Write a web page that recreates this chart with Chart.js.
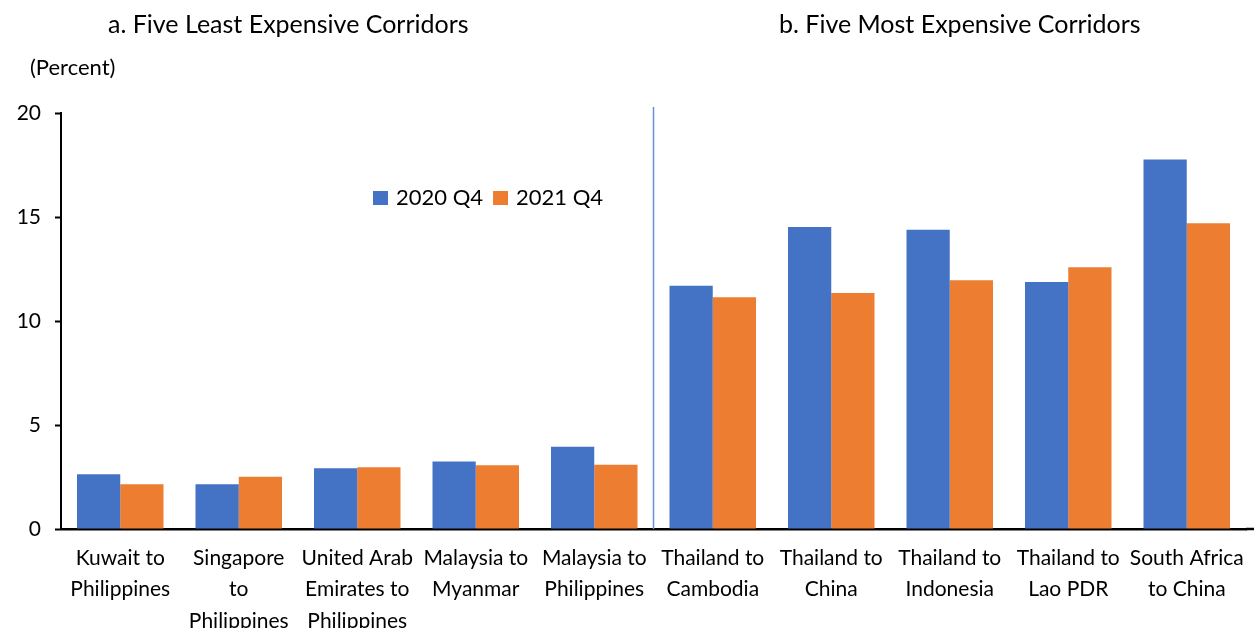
<!DOCTYPE html>
<html>
<head>
<meta charset="utf-8">
<script src="https://cdn.jsdelivr.net/npm/chart.js@4.4.1/dist/chart.umd.min.js"></script>
<style>
  html, body { margin: 0; padding: 0; background: #fff; }
  #wrap { width: 1254px; height: 628px; position: relative; }
</style>
</head>
<body>
<div id="wrap"><canvas id="costChart"></canvas></div>
<script>
// remittance corridors, average cost in percent
const corridors = [
    ['Kuwait to', 'Philippines'],
    ['Singapore', 'to', 'Philippines'],
    ['United Arab', 'Emirates to', 'Philippines'],
    ['Malaysia to', 'Myanmar'],
    ['Malaysia to', 'Philippines'],
    ['Thailand to', 'Cambodia'],
    ['Thailand to', 'China'],
    ['Thailand to', 'Indonesia'],
    ['Thailand to', 'Lao PDR'],
    ['South Africa', 'to China']
];
const cost2020Q4 = [2.63, 2.15, 2.92, 3.24, 3.96, 11.70, 14.52, 14.39, 11.88, 17.77];
const cost2021Q4 = [2.15, 2.51, 2.97, 3.06, 3.09, 11.14, 11.35, 11.96, 12.58, 14.70];
const yTicks = [0, 5, 10, 15, 20];
const panelTitles = ['a. Five Least Expensive Corridors', 'b. Five Most Expensive Corridors'];

const FONT = 'Lato, "Open Sans", sans-serif';

// titles, unit note, divider between panels and the inline legend
const extras = {
    id: 'extras',
    afterDatasetsDraw(chart) {
        const ctx = chart.ctx;
        const x = chart.scales.x;
        const area = chart.chartArea;
        ctx.save();

        // run the category axis line out to the edge
        ctx.strokeStyle = '#000';
        ctx.lineWidth = 2.5;
        ctx.beginPath();
        ctx.moveTo(area.right, area.bottom);
        ctx.lineTo(chart.width, area.bottom);
        ctx.stroke();

        // divider between the two groups
        const divX = (x.getPixelForValue(4) + x.getPixelForValue(5)) / 2;
        ctx.strokeStyle = '#6a8fd4';
        ctx.lineWidth = 1.5;
        ctx.beginPath();
        ctx.moveTo(divX, area.top - 6);
        ctx.lineTo(divX, area.bottom);
        ctx.stroke();

        ctx.fillStyle = '#000';
        ctx.textBaseline = 'middle';
        ctx.textAlign = 'left';
        ctx.font = '25px ' + FONT;
        ctx.fillText(panelTitles[0], 108, 25);
        ctx.fillText(panelTitles[1], 779, 25);

        ctx.font = '22px ' + FONT;
        ctx.fillText('(Percent)', 30, 68);

        // legend
        ctx.font = '22px ' + FONT;
        let lx = 373;
        chart.data.datasets.forEach(ds => {
            ctx.fillStyle = ds.backgroundColor;
            ctx.fillRect(lx, 191, 15, 14);
            lx += 23;
            ctx.fillStyle = '#000';
            ctx.fillText(ds.label, lx, 198);
            lx += ctx.measureText(ds.label).width + 10;
        });
        ctx.restore();
    }
};

new Chart(document.getElementById('costChart'), {
    type: 'bar',
    data: {
        labels: corridors,
        datasets: [
            { label: '2020 Q4', data: cost2020Q4, backgroundColor: '#4472C4' },
            { label: '2021 Q4', data: cost2021Q4, backgroundColor: '#ED7D31' }
        ]
    },
    options: {
        responsive: true,
        maintainAspectRatio: false,
        animation: false,
        categoryPercentage: 0.73,
        barPercentage: 1.0,
        layout: { padding: { top: 113, right: 8, left: 0, bottom: 0 } },
        plugins: {
            legend: { display: false },
            tooltip: { enabled: false }
        },
        scales: {
            x: {
                grid: { display: false },
                border: { display: true, color: '#000', width: 2.5 },
                ticks: {
                    color: '#000',
                    font: { family: FONT, size: 21, lineHeight: 1.5 },
                    padding: 5,
                    maxRotation: 0,
                    autoSkip: false
                },
                afterFit(scale) { scale.height = 99; }
            },
            y: {
                min: 0,
                max: 20,
                afterBuildTicks(scale) { scale.ticks = yTicks.map(v => ({ value: v })); },
                grid: {
                    display: true,
                    drawOnChartArea: false,
                    drawTicks: true,
                    tickLength: 6,
                    tickWidth: 2,
                    color: '#000'
                },
                border: { display: true, color: '#000', width: 2 },
                ticks: {
                    color: '#000',
                    font: { family: FONT, size: 21 },
                    padding: 14
                },
                afterFit(scale) { scale.width = 61; }
            }
        }
    },
    plugins: [extras]
});
</script>
</body>
</html>
